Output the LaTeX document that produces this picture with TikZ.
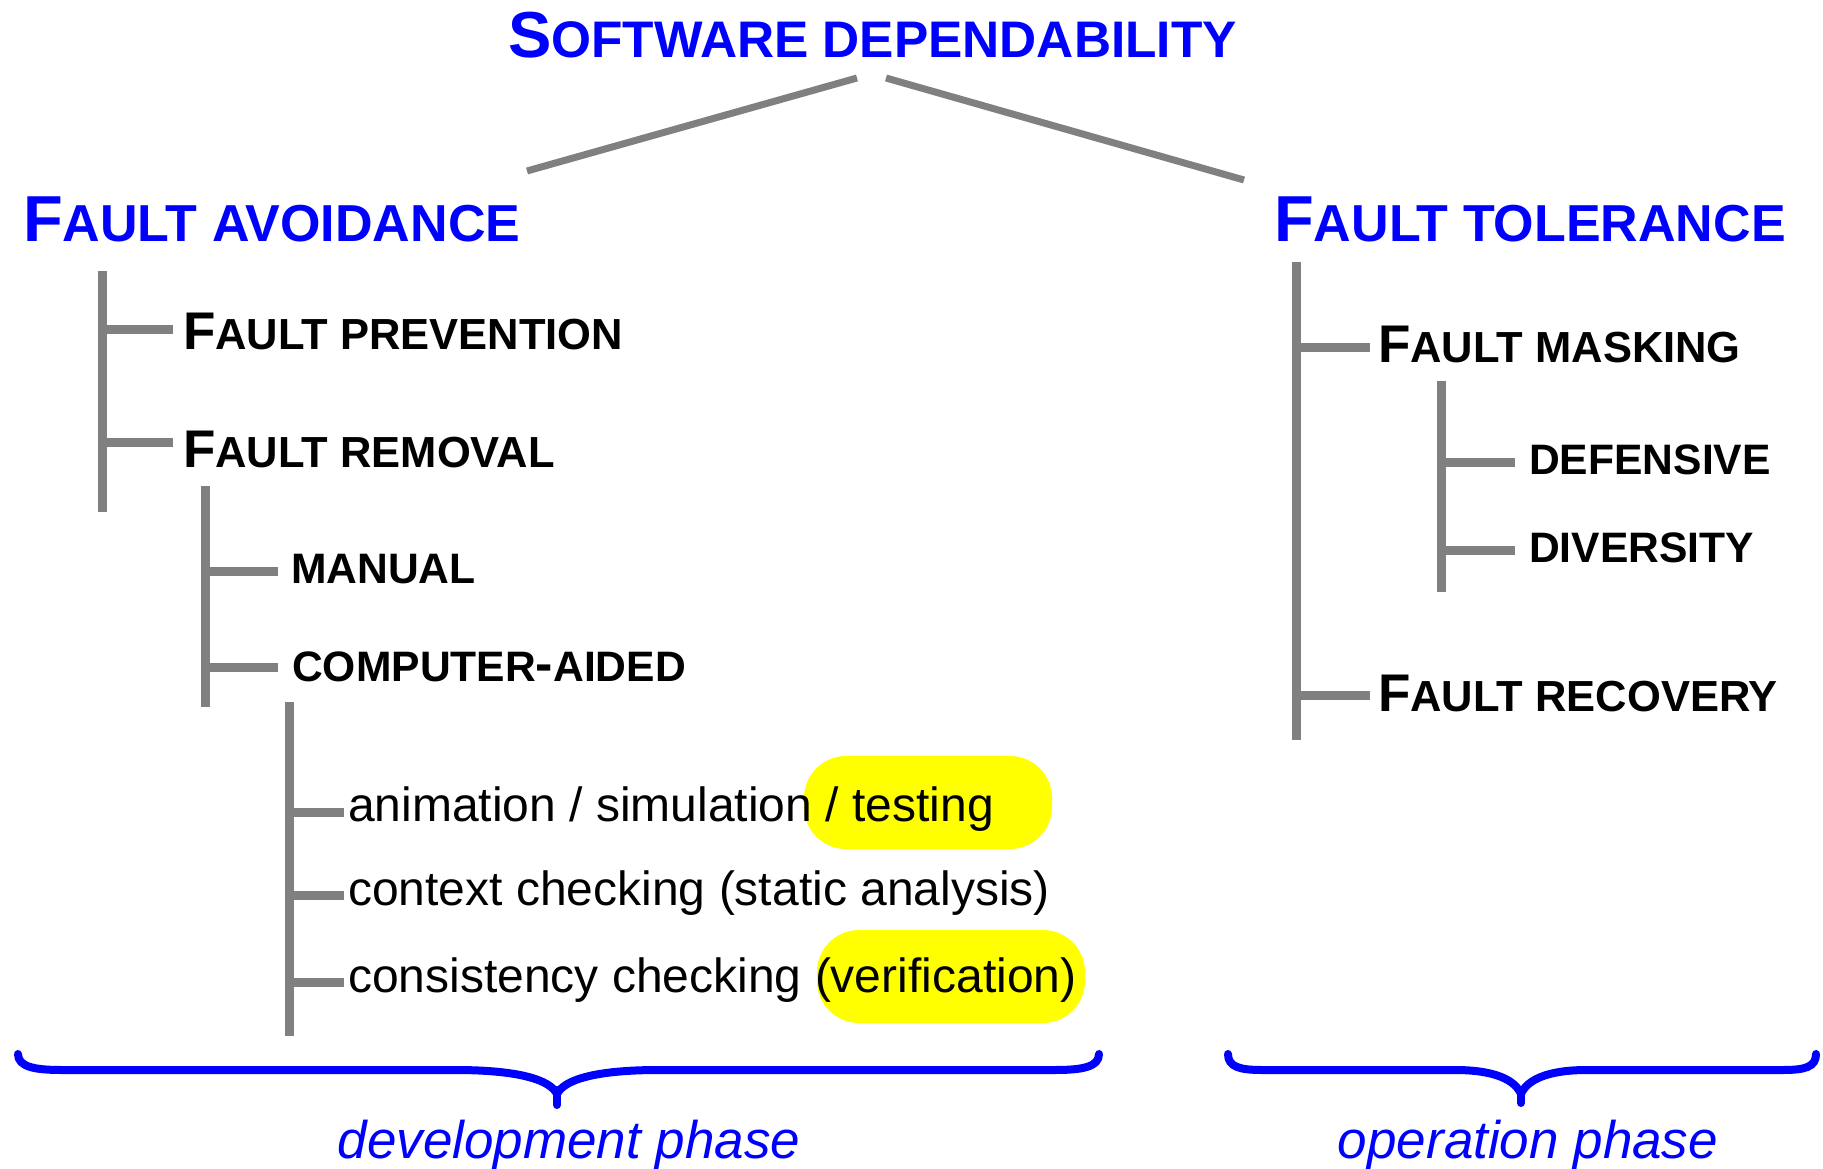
\documentclass[tikz,border=0pt]{standalone}
\usepackage{fontspec}
\setmainfont{Liberation Sans}
\usepackage{tikz}

\definecolor{hblue}{RGB}{0,0,255}
\definecolor{tgray}{RGB}{128,128,128}
\definecolor{hyellow}{RGB}{255,255,0}

% fake small caps: first letter large, rest smaller capitals
\newcommand{\headsc}[3][52pt]{{\fontsize{65pt}{65pt}\selectfont #2}{\fontsize{#1}{#1}\selectfont #3}}
\newcommand{\subsc}[2]{{\fontsize{53pt}{53pt}\selectfont #1}{\fontsize{43.5pt}{43.5pt}\selectfont #2}}

\begin{document}
\begin{tikzpicture}[
    x=1pt, y=-1pt,
    head/.style={anchor=base west, inner sep=0pt, text=hblue, font=\bfseries},
    sub/.style={anchor=base west, inner sep=0pt, font=\bfseries},
    kind/.style={sub, font=\bfseries\fontsize{42.6pt}{42.6pt}\selectfont},
    leaf/.style={anchor=base west, inner sep=0pt, font=\fontsize{48pt}{48pt}\selectfont},
    phase/.style={anchor=base, inner sep=0pt, text=hblue,
                  font=\itshape\fontsize{53pt}{53pt}\selectfont},
    tree/.style={draw=tgray, line width=9pt},
    link/.style={draw=tgray, line width=7pt},
    brace/.style={draw=hblue, line width=8pt, line cap=round},
    hl/.style={fill=hyellow, rounded corners=42pt},
]
\useasboundingbox (0,0) rectangle (1823,1169);

% Highlights (behind the text)
\fill[hl] (804,756) rectangle (1052,849);
\fill[hl] (817,930) rectangle (1085,1023);

% Title and the two branches
\node[head] (dep) at (508,58) {\headsc[51.4pt]{S}{OFTWARE DEPENDABILITY}};
\node[head] (avoid) at (23,241) {\headsc{F}{AULT AVOIDANCE}};
\node[head] (toler) at (1274,241) {\headsc{F}{AULT TOLERANCE}};

\coordinate (depL) at (857,78);
\coordinate (depR) at (886,78);
\coordinate (avoidT) at (527,171);
\coordinate (tolerT) at (1244,180);
\draw[link] (depL) -- (avoidT);
\draw[link] (depR) -- (tolerT);

% Left tree, level 1
\node[sub] (prev) at (183,349) {\subsc{F}{AULT PREVENTION}};
\node[sub] (remov) at (183,467) {\subsc{F}{AULT REMOVAL}};
\coordinate (vA) at (102,271);
\coordinate (vAend) at (102,512);
\coordinate (sPrev) at (173,329);
\coordinate (sRemov) at (173,442);
\draw[tree] (vA) -- (vAend);
\draw[tree] (vA |- sPrev) -- (sPrev);
\draw[tree] (vA |- sRemov) -- (sRemov);

% Left tree, level 2
\node[kind] (manual) at (291,583) {MANUAL};
\node[kind] (caided) at (292,681) {COMPUTER{\fontsize{52pt}{52pt}\selectfont -}AIDED};
\coordinate (vB) at (205,486);
\coordinate (vBend) at (205,707);
\coordinate (sManual) at (278,571);
\coordinate (sCaided) at (278,667);
\draw[tree] (vB) -- (vBend);
\draw[tree] (vB |- sManual) -- (sManual);
\draw[tree] (vB |- sCaided) -- (sCaided);

% Left tree, level 3
\node[leaf] (anim) at (348,821) {animation / simulation / testing};
\node[leaf] (context) at (348,905) {context checking (static analysis)};
\node[leaf] (consist) at (348,992) {consistency checking (verification)};
\coordinate (vC) at (289,702);
\coordinate (vCend) at (289,1036);
\coordinate (sAnim) at (344,812);
\coordinate (sContext) at (344,895);
\coordinate (sConsist) at (344,982);
\draw[tree] (vC) -- (vCend);
\draw[tree] (vC |- sAnim) -- (sAnim);
\draw[tree] (vC |- sContext) -- (sContext);
\draw[tree] (vC |- sConsist) -- (sConsist);

% Right tree, level 1
\node[sub] (mask) at (1378,362) {\subsc{F}{AULT MASKING}};
\node[sub] (recov) at (1378,711) {\subsc{F}{AULT RECOVERY}};
\coordinate (vD) at (1296,262);
\coordinate (vDend) at (1296,740);
\coordinate (sMask) at (1370,347);
\coordinate (sRecov) at (1370,695);
\draw[tree] (vD) -- (vDend);
\draw[tree] (vD |- sMask) -- (sMask);
\draw[tree] (vD |- sRecov) -- (sRecov);

% Right tree, level 2
\node[kind] (defens) at (1529,474) {DEFENSIVE};
\node[kind] (divers) at (1529,562) {DIVERSITY};
\coordinate (vE) at (1441,381);
\coordinate (vEend) at (1441,592);
\coordinate (sDefens) at (1515,462);
\coordinate (sDivers) at (1515,550);
\draw[tree] (vE) -- (vEend);
\draw[tree] (vE |- sDefens) -- (sDefens);
\draw[tree] (vE |- sDivers) -- (sDivers);

% Braces and phases
\draw[brace] (18,1054) .. controls (18,1067) and (35,1070) .. (62,1070)
    -- (455,1070) .. controls (520,1070) and (550,1080) .. (557,1094)
    .. controls (564,1080) and (594,1070) .. (659,1070)
    -- (1055,1070) .. controls (1082,1070) and (1099,1067) .. (1099,1054);
\draw[brace] (557,1090) -- (557,1105);
\draw[brace] (1228,1054) .. controls (1228,1067) and (1240,1070) .. (1262,1070)
    -- (1455,1070) .. controls (1495,1070) and (1515,1080) .. (1521,1094)
    .. controls (1527,1080) and (1547,1070) .. (1587,1070)
    -- (1783,1070) .. controls (1805,1070) and (1816,1067) .. (1816,1054);
\draw[brace] (1521,1090) -- (1521,1103);

\node[phase] (devel) at (569,1158) {development phase};
\node[phase] (oper) at (1528,1158) {operation phase};
\end{tikzpicture}
\end{document}
